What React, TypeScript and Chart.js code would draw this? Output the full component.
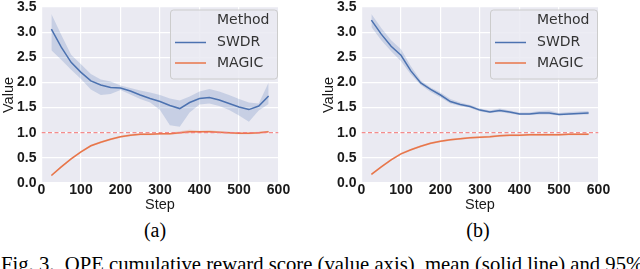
import React, { useEffect, useRef } from "react";
import { Chart, registerables } from "chart.js";
Chart.register(...registerables);

const STEPS = [25, 50, 75, 100, 125, 150, 175, 200, 225, 250, 275, 300, 325, 350, 375, 400, 425, 450, 475, 500, 525, 550, 575];

// Panel (a)
const SWDR_A_MEAN = [3.06, 2.70, 2.40, 2.20, 2.03, 1.95, 1.90, 1.89, 1.83, 1.75, 1.68, 1.62, 1.54, 1.48, 1.60, 1.68, 1.70, 1.65, 1.58, 1.51, 1.46, 1.53, 1.73];
const SWDR_A_LOW = [2.64, 2.45, 2.25, 2.07, 1.86, 1.75, 1.77, 1.85, 1.76, 1.67, 1.60, 1.45, 1.15, 1.12, 1.40, 1.56, 1.58, 1.53, 1.45, 1.34, 1.22, 1.44, 1.57];
const SWDR_A_HIGH = [3.36, 2.95, 2.55, 2.36, 2.17, 2.06, 2.02, 1.94, 1.89, 1.84, 1.80, 1.75, 1.68, 1.64, 1.72, 1.82, 1.87, 1.82, 1.75, 1.67, 1.60, 1.58, 2.00];
const MAGIC_A_MEAN = [0.15, 0.32, 0.48, 0.62, 0.74, 0.81, 0.87, 0.92, 0.95, 0.97, 0.97, 0.98, 0.98, 1.00, 1.02, 1.02, 1.02, 1.01, 1.00, 0.99, 0.99, 1.00, 1.02];
const MAGIC_A_LOW = [0.13, 0.30, 0.46, 0.60, 0.72, 0.79, 0.85, 0.90, 0.93, 0.95, 0.95, 0.96, 0.96, 0.98, 0.99, 1.00, 1.00, 0.99, 0.98, 0.97, 0.97, 0.98, 1.00];
const MAGIC_A_HIGH = [0.17, 0.34, 0.50, 0.64, 0.76, 0.83, 0.89, 0.94, 0.97, 0.99, 0.99, 1.00, 1.00, 1.03, 1.06, 1.04, 1.05, 1.03, 1.02, 1.01, 1.01, 1.02, 1.04];

// Panel (b)
const SWDR_B_MEAN = [3.24, 2.96, 2.72, 2.54, 2.23, 1.99, 1.86, 1.75, 1.62, 1.56, 1.52, 1.45, 1.41, 1.44, 1.41, 1.37, 1.37, 1.39, 1.39, 1.36, 1.37, 1.38, 1.39];
const SWDR_B_LOW = [3.10, 2.84, 2.62, 2.42, 2.16, 1.95, 1.81, 1.70, 1.58, 1.53, 1.49, 1.42, 1.39, 1.41, 1.38, 1.35, 1.35, 1.36, 1.36, 1.34, 1.35, 1.36, 1.36];
const SWDR_B_HIGH = [3.36, 3.08, 2.84, 2.66, 2.32, 2.04, 1.90, 1.80, 1.67, 1.60, 1.55, 1.48, 1.44, 1.48, 1.44, 1.40, 1.40, 1.43, 1.44, 1.39, 1.41, 1.42, 1.43];
const MAGIC_B_MEAN = [0.17, 0.32, 0.46, 0.58, 0.66, 0.73, 0.79, 0.83, 0.86, 0.88, 0.90, 0.91, 0.92, 0.94, 0.95, 0.95, 0.96, 0.96, 0.96, 0.96, 0.97, 0.97, 0.97];
const MAGIC_B_LOW = [0.15, 0.30, 0.44, 0.56, 0.64, 0.71, 0.77, 0.81, 0.84, 0.86, 0.88, 0.89, 0.90, 0.92, 0.93, 0.93, 0.94, 0.94, 0.94, 0.94, 0.95, 0.95, 0.95];
const MAGIC_B_HIGH = [0.19, 0.34, 0.48, 0.60, 0.68, 0.75, 0.81, 0.85, 0.88, 0.90, 0.92, 0.93, 0.94, 0.96, 0.97, 0.97, 0.98, 0.98, 0.98, 0.98, 0.99, 0.99, 0.99];

const REF_X = [0, 600];
const REF_Y = [1.0, 1.0];
const X_RANGE = [0, 600];
const X_STEP = 100;
const Y_RANGE = [0, 3.5];
const Y_STEP = 0.5;
const LEGEND_TITLE = "Method";
const SERIES_NAMES = ["SWDR", "MAGIC"];
const CAPTION = "Fig. 3.  OPE cumulative reward score (value axis), mean (solid line) and 95% confidence interval (shaded area)";

const BLUE = "#4C72B0";
const ORANGE = "#E8764A";
const BG = "#EAEAF2";

const pts = (ys: number[], xs: number[] = STEPS) => xs.map((x, i) => ({ x, y: ys[i] }));

const W = 320;
const H = 215;

type PanelProps = {
  swdr: number[]; swdrLo: number[]; swdrHi: number[];
  magic: number[]; magicLo: number[]; magicHi: number[];
};

function Panel(p: PanelProps) {
  const ref = useRef<HTMLCanvasElement | null>(null);
  useEffect(() => {
    if (!ref.current) return;
    const bgPlugin = {
      id: "bg",
      beforeDraw(chart: any) {
        const { ctx, chartArea: a } = chart;
        ctx.save();
        ctx.fillStyle = BG;
        ctx.fillRect(a.left, a.top, a.right - a.left, a.bottom - a.top);
        ctx.restore();
      },
    };
    const legendPlugin = {
      id: "seabornLegend",
      afterDraw(chart: any) {
        const { ctx, chartArea: a } = chart;
        const bw = 107, bh = 69;
        const bx = a.right - bw - 1.5, by = a.top + 2.5;
        ctx.save();
        ctx.beginPath();
        (ctx as any).roundRect(bx + 0.5, by + 0.5, bw, bh, 3);
        ctx.fillStyle = "rgba(234,234,242,0.85)";
        ctx.fill();
        ctx.strokeStyle = "#CCCCCC";
        ctx.lineWidth = 1;
        ctx.stroke();
        ctx.font = "14px 'DejaVu Sans'";
        ctx.fillStyle = "#333333";
        ctx.textBaseline = "middle";
        ctx.textAlign = "left";
        const tx = bx + 47;
        ctx.fillText(LEGEND_TITLE, tx, by + 11);
        const rows = [
          { name: SERIES_NAMES[0], color: BLUE, y: by + 33 },
          { name: SERIES_NAMES[1], color: ORANGE, y: by + 53.5 },
        ];
        rows.forEach((r) => {
          ctx.strokeStyle = r.color;
          ctx.lineWidth = 1.5;
          ctx.beginPath();
          ctx.moveTo(bx + 5, r.y);
          ctx.lineTo(bx + 36, r.y);
          ctx.stroke();
          ctx.fillText(r.name, tx, r.y);
        });
        ctx.restore();
      },
    };
    const band = (color: string) => ({ borderWidth: 0, pointRadius: 0, backgroundColor: color });
    const chart = new Chart(ref.current, {
      type: "line",
      data: {
        datasets: [
          { data: pts(REF_Y, REF_X), borderColor: "rgba(242,120,120,0.85)", borderWidth: 1.3, borderDash: [4, 2.5], pointRadius: 0, fill: false },
          { data: pts(p.swdr), borderColor: BLUE, borderWidth: 1.5, pointRadius: 0, fill: false },
          { data: pts(p.magic), borderColor: ORANGE, borderWidth: 1.5, pointRadius: 0, fill: false },
          { data: pts(p.swdrHi), ...band("rgba(76,114,176,0.22)"), fill: "+1" },
          { data: pts(p.swdrLo), ...band("rgba(0,0,0,0)"), fill: false },
          { data: pts(p.magicHi), ...band("rgba(232,118,74,0.25)"), fill: "+1" },
          { data: pts(p.magicLo), ...band("rgba(0,0,0,0)"), fill: false },
        ],
      },
      options: {
        responsive: false,
        animation: false,
        devicePixelRatio: 1,
        layout: { padding: { left: 0, right: 41.5, top: 7, bottom: 0 } },
        plugins: { legend: { display: false }, tooltip: { enabled: false } },
        elements: { line: { tension: 0 } },
        scales: {
          x: {
            type: "linear",
            min: X_RANGE[0],
            max: X_RANGE[1],
            ticks: { stepSize: X_STEP, padding: -1, color: "#1a1a1a", font: { family: "'Liberation Sans'", size: 14, weight: "bold" } },
            grid: { color: "#FFFFFF", lineWidth: 1.2, drawTicks: false },
            border: { display: false },
            title: { display: true, text: "Step", color: "#1a1a1a", font: { family: "'Liberation Sans'", size: 14.5 }, padding: { top: 0, bottom: 1 } },
            afterFit: (s: any) => { s.height = H - 183; s.paddingLeft = 0; s.paddingRight = 0; },
          },
          y: {
            type: "linear",
            min: Y_RANGE[0],
            max: Y_RANGE[1],
            ticks: { stepSize: Y_STEP, padding: 5, color: "#1a1a1a", callback: (v: any) => Number(v).toFixed(1), font: { family: "'Liberation Sans'", size: 14, weight: "bold" } },
            grid: { color: "#FFFFFF", lineWidth: 1.2, drawTicks: false },
            border: { display: false },
            title: { display: true, text: "Value", color: "#1a1a1a", font: { family: "'Liberation Sans'", size: 14.5 }, padding: 0 },
            afterFit: (s: any) => { s.width = 41.5; s.paddingTop = 0; s.paddingBottom = 0; },
          },
        },
      } as any,
      plugins: [bgPlugin, legendPlugin],
    });
    return () => chart.destroy();
  }, []);
  return <canvas ref={ref} width={W} height={H} style={{ width: W, height: H, display: "block" }} />;
}

export default function App() {
  const serif = "'Liberation Serif', 'Times New Roman', serif";
  return (
    <div style={{ position: "fixed", left: 0, top: 0, width: 640, height: 269, overflow: "hidden", background: "#fff" }}>
      <div style={{ position: "absolute", left: 0, top: 0 }}>
        <Panel swdr={SWDR_A_MEAN} swdrLo={SWDR_A_LOW} swdrHi={SWDR_A_HIGH} magic={MAGIC_A_MEAN} magicLo={MAGIC_A_LOW} magicHi={MAGIC_A_HIGH} />
      </div>
      <div style={{ position: "absolute", left: 320, top: 0 }}>
        <Panel swdr={SWDR_B_MEAN} swdrLo={SWDR_B_LOW} swdrHi={SWDR_B_HIGH} magic={MAGIC_B_MEAN} magicLo={MAGIC_B_LOW} magicHi={MAGIC_B_HIGH} />
      </div>
      <div style={{ position: "absolute", left: 55, width: 200, top: 220, textAlign: "center", fontFamily: serif, fontSize: 20, lineHeight: "20px", whiteSpace: "nowrap" }}>(a)</div>
      <div style={{ position: "absolute", left: 378, width: 200, top: 220, textAlign: "center", fontFamily: serif, fontSize: 20, lineHeight: "20px", whiteSpace: "nowrap" }}>(b)</div>
      <div style={{ position: "absolute", left: 1, top: 253.5, fontFamily: serif, fontSize: 20.7, lineHeight: "20.7px", whiteSpace: "pre" }}>{CAPTION}</div>
    </div>
  );
}
